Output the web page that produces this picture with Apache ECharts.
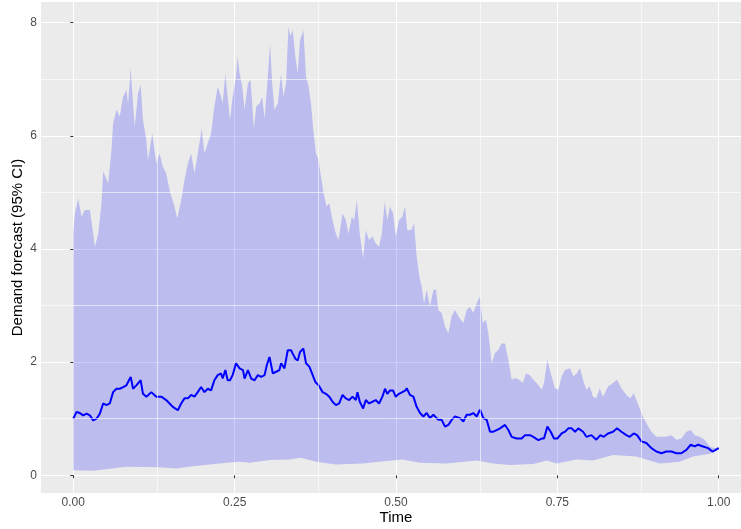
<!DOCTYPE html>
<html>
<head>
<meta charset="utf-8">
<title>Demand forecast</title>
<script src="https://cdn.jsdelivr.net/npm/echarts@6/dist/echarts.min.js"></script>
<style>
	html,body{margin:0;padding:0;background:#ffffff;}
	#main{width:741px;height:529px;}
</style>
</head>
<body>
<div id="main"></div>
<script>
// upper edge of the 95% band
var upperTime = [0,0.0026,0.0077,0.0129,0.018,0.0257,0.0309,0.0334,0.0386,0.0437,0.0463,0.054,0.0592,0.0617,0.0669,0.072,0.0772,0.0823,0.0849,0.089,0.0926,0.0952,0.1003,0.1044,0.108,0.1132,0.1157,0.1224,0.1286,0.1337,0.1389,0.144,0.1492,0.1569,0.161,0.1672,0.1723,0.1775,0.1826,0.1878,0.1929,0.1991,0.2032,0.2083,0.2135,0.2186,0.2238,0.2289,0.2315,0.2356,0.2392,0.2428,0.2469,0.2521,0.2546,
	0.2577,0.2618,0.2654,0.2706,0.2747,0.2798,0.2834,0.2886,0.2927,0.2963,0.2999,0.305,0.3081,0.3117,0.3169,0.322,0.3256,0.3297,0.3333,0.3364,0.34,0.3441,0.3477,0.3513,0.3565,0.3606,0.3647,0.3683,0.3719,0.376,0.3801,0.3837,0.3879,0.3925,0.3966,0.4017,0.4069,0.411,0.4172,0.4223,0.4264,0.4316,0.4352,0.4393,0.4439,0.4491,0.4532,0.4583,0.4635,0.4686,0.4738,0.4779,0.4825,0.4866,0.4907,0.4954,0.4995,0.5046,0.5098,0.5139,0.5175,
	0.5243,0.5279,0.532,0.5362,0.5398,0.5434,0.5475,0.5527,0.5579,0.562,0.5656,0.5708,0.5759,0.5811,0.5863,0.5914,0.5966,0.6043,0.6095,0.6147,0.6198,0.625,0.6302,0.6343,0.6395,0.6431,0.6482,0.6534,0.6586,0.6637,0.6689,0.6741,0.6792,0.6844,0.6911,0.6963,0.7014,0.7076,0.7128,0.718,0.7257,0.7293,0.7345,0.7397,0.7464,0.7516,0.7567,0.7619,0.7696,0.7748,0.78,0.7851,
	0.7898,0.795,0.8001,0.8053,0.8104,0.8156,0.8208,0.8285,0.8363,0.8425,0.8492,0.8569,0.8631,0.8683,0.8735,0.8802,0.8879,0.8957,0.9034,0.9112,0.9189,0.9267,0.9344,0.9421,0.9499,0.9566,0.9628,0.9706,0.9783,0.9861,0.9938,1];
var upperValue = [4.30,4.63,4.89,4.57,4.69,4.69,4.27,4.04,4.27,4.80,5.37,5.16,5.75,6.22,6.46,6.34,6.69,6.81,6.57,7.19,6.57,6.16,6.75,6.90,6.28,5.93,5.57,6.04,5.51,5.69,5.45,5.34,5.04,4.75,4.54,4.86,5.22,5.51,5.69,5.34,5.69,6.13,5.69,5.87,6.04,6.52,6.87,6.69,6.57,7.10,6.69,6.28,6.69,7.05,7.40,
	7.10,6.87,6.46,6.93,6.99,6.13,6.52,6.57,6.69,6.31,6.81,7.64,6.93,6.46,6.57,7.10,6.69,6.93,7.93,7.76,7.87,7.40,7.10,7.69,7.87,7.05,6.87,6.57,6.10,5.69,5.57,5.28,4.98,4.75,4.81,4.51,4.27,4.16,4.63,4.51,4.27,4.57,4.51,4.86,4.27,3.83,4.33,4.16,4.22,4.10,4.04,4.27,4.83,4.51,4.75,4.63,4.22,4.51,4.57,4.75,4.33,
	4.34,4.46,3.87,3.51,3.34,3.04,3.28,2.98,3.28,3.28,2.92,2.87,2.63,2.51,2.81,2.92,2.81,2.69,2.92,2.98,2.87,3.04,3.16,2.69,2.75,2.51,1.98,2.16,2.22,2.33,2.33,2.04,1.69,1.72,1.69,1.63,1.80,1.77,1.69,1.63,1.51,1.63,2.04,1.80,1.54,1.51,1.75,1.86,1.89,1.75,1.80,1.89,
	1.69,1.51,1.57,1.39,1.36,1.54,1.39,1.57,1.63,1.69,1.54,1.42,1.36,1.45,1.30,1.10,0.92,0.77,0.68,0.68,0.68,0.71,0.63,0.65,0.77,0.80,0.71,0.68,0.63,0.51,0.48,0.50];

// lower edge of the 95% band
var lowerTime = [0,0.0309,0.0823,0.1337,0.1595,0.1852,0.2263,0.2572,0.2731,0.304,0.3349,0.3529,0.376,0.4069,0.448,0.4738,0.5098,0.5372,0.5785,0.625,0.6508,0.6767,0.7128,0.7335,0.749,0.7794,0.8053,0.8363,0.8725,0.9086,0.9396,0.9602,0.9861,1];
var lowerValue = [0.09,0.08,0.15,0.14,0.12,0.16,0.21,0.24,0.22,0.27,0.28,0.31,0.24,0.19,0.21,0.24,0.28,0.22,0.21,0.26,0.21,0.18,0.20,0.26,0.21,0.28,0.26,0.36,0.33,0.21,0.24,0.33,0.38,0.46];

// forecast mean
var meanTime = [0,0.0051,0.0103,0.0154,0.0206,0.0257,0.0309,0.036,0.0412,0.0463,0.0514,0.0566,0.0617,0.0669,0.072,0.0772,0.0823,0.0849,0.089,0.0926,0.0977,0.1044,0.108,0.1132,0.1209,0.1286,0.1363,0.144,0.1492,0.1543,0.162,0.1672,0.1723,0.1775,0.1826,0.1878,0.1929,0.198,0.2032,0.2083,0.2135,0.2186,0.2238,0.2289,0.2315,0.2356,0.2392,0.2428,0.2469,0.2521,
	0.2577,0.2629,0.2654,0.2706,0.2757,0.2809,0.286,0.2912,0.2963,0.2999,0.304,0.3092,0.3143,0.3194,0.322,0.3272,0.3323,0.3374,0.34,0.3441,0.3477,0.3513,0.3565,0.3606,0.3657,0.3699,0.375,0.3801,0.3863,0.3915,0.3966,0.4017,0.4069,0.412,0.4172,0.4223,0.4275,0.4326,0.4378,0.4403,0.4439,0.4491,0.4532,0.4583,0.4635,0.4686,0.4738,0.4789,0.483,0.4866,0.4907,0.4954,0.4995,0.5046,0.5098,0.5149,
	0.5165,0.5217,0.5269,0.532,0.5372,0.5424,0.5475,0.5527,0.5579,0.5656,0.5708,0.5759,0.5811,0.5863,0.5914,0.5992,0.6043,0.6095,0.6147,0.6198,0.625,0.6302,0.6353,0.6405,0.6457,0.6508,0.656,0.6612,0.6689,0.6741,0.6792,0.687,0.6947,0.6999,0.7076,0.7128,0.7206,0.7257,0.7293,0.7345,0.7397,0.7448,0.75,0.7567,0.7619,0.767,0.7722,0.7774,0.7825,
	0.7898,0.795,0.8027,0.8104,0.8166,0.8218,0.8285,0.8363,0.8425,0.8492,0.8569,0.8621,0.8683,0.8735,0.8802,0.8879,0.8957,0.9034,0.9112,0.9189,0.9267,0.9344,0.9421,0.9499,0.9566,0.9628,0.9679,0.9757,0.9835,0.9902,0.9953,1];
var meanValue = [1.00,1.12,1.10,1.06,1.09,1.06,0.97,1.00,1.09,1.27,1.24,1.27,1.47,1.53,1.53,1.56,1.59,1.65,1.74,1.53,1.59,1.68,1.44,1.39,1.47,1.39,1.39,1.33,1.27,1.21,1.15,1.27,1.36,1.36,1.42,1.39,1.47,1.56,1.47,1.53,1.50,1.68,1.77,1.80,1.71,1.86,1.68,1.68,1.77,1.98,
	1.89,1.86,1.71,1.86,1.71,1.68,1.77,1.74,1.77,1.95,2.09,1.80,1.83,1.86,1.98,1.89,2.21,2.21,2.15,2.06,2.03,2.18,2.24,1.98,1.92,1.80,1.65,1.59,1.47,1.44,1.39,1.30,1.24,1.27,1.42,1.36,1.33,1.39,1.33,1.47,1.30,1.18,1.33,1.27,1.30,1.33,1.27,1.39,1.53,1.44,1.50,1.50,1.39,1.44,1.47,1.50,
	1.54,1.42,1.39,1.21,1.10,1.04,1.10,1.01,1.07,0.98,0.98,0.86,0.89,0.98,1.04,1.01,0.95,1.07,1.07,1.10,1.04,1.16,1.01,0.98,0.77,0.77,0.80,0.83,0.89,0.80,0.68,0.65,0.65,0.71,0.71,0.68,0.62,0.65,0.65,0.86,0.77,0.65,0.65,0.74,0.77,0.83,0.83,0.77,0.83,
	0.77,0.68,0.71,0.63,0.71,0.68,0.74,0.77,0.83,0.77,0.71,0.68,0.74,0.71,0.60,0.57,0.48,0.42,0.39,0.42,0.42,0.39,0.39,0.45,0.54,0.51,0.54,0.51,0.48,0.42,0.45,0.48];

var xTicks = [0, 0.25, 0.5, 0.75, 1];
var yTicks = [0, 2, 4, 6, 8];
var xMinor = [0.125, 0.375, 0.625, 0.875];
var yMinor = [1, 3, 5, 7];

function pairs(xs, ys){
	var out = [];
	for(var i = 0; i < xs.length; i++){
		out.push([xs[i], ys[i]]);
	}
	return out;
}

var minorLines = [];
for(var i = 0; i < xMinor.length; i++){ minorLines.push({xAxis: xMinor[i]}); }
for(var j = 0; j < yMinor.length; j++){ minorLines.push({yAxis: yMinor[j]}); }

var font = "'Liberation Sans', Arial, sans-serif";
var myChart = echarts.init(document.getElementById('main'));
var option = {
	animation: false,
	backgroundColor: '#ffffff',
	grid: {
		left: 41, top: 2, width: 710, height: 491,
		outerBoundsMode: 'none',
		containLabel: false,
		show: true, backgroundColor: '#EBEBEB', borderWidth: 0
	},
	xAxis: {
		type: 'value',
		min: -0.05,
		max: 1.05,
		name: 'Time',
		nameLocation: 'middle',
		nameGap: 17,
		nameMoveOverlap: false,
		nameTextStyle: {color: '#000000', fontSize: 15, fontFamily: font},
		axisLine: {show: false},
		axisTick: {show: true, length: 3, customValues: xTicks, lineStyle: {color: '#333333'}},
		axisLabel: {
			customValues: xTicks, margin: 4, color: '#4D4D4D', fontSize: 12, fontFamily: font,
			formatter: function(v){ return v.toFixed(2); }
		},
		splitLine: {show: true, lineStyle: {color: '#FFFFFF', width: 1}}
	},
	yAxis: {
		type: 'value',
		min: -0.313,
		max: 8.366,
		name: 'Demand forecast (95% CI)',
		nameLocation: 'middle',
		nameGap: 16,
		nameMoveOverlap: false,
		nameTextStyle: {color: '#000000', fontSize: 15, fontFamily: font},
		axisLine: {show: false},
		axisTick: {show: true, length: 3, customValues: yTicks, lineStyle: {color: '#333333'}},
		axisLabel: {customValues: yTicks, margin: 4, color: '#4D4D4D', fontSize: 12, fontFamily: font},
		splitLine: {show: true, lineStyle: {color: '#FFFFFF', width: 1}}
	},
	series: [
		{
			name: 'minor grid',
			type: 'line',
			data: [],
			silent: true,
			z: 1,
			markLine: {
				silent: true,
				symbol: 'none',
				label: {show: false},
				lineStyle: {color: '#FFFFFF', width: 0.6, type: 'solid'},
				data: minorLines
			}
		},
		{
			name: 'band',
			type: 'custom',
			silent: true,
			z: 2,
			data: [[0, 0]],
			renderItem: function(params, api){
				var pts = [];
				for(var i = 0; i < upperTime.length; i++){
					pts.push(api.coord([upperTime[i], upperValue[i]]));
				}
				for(var k = lowerTime.length - 1; k >= 0; k--){
					pts.push(api.coord([lowerTime[k], lowerValue[k]]));
				}
				return {
					type: 'polygon',
					shape: {points: pts},
					style: {fill: 'rgba(0,0,255,0.2)'}
				};
			}
		},
		{
			name: 'mean',
			type: 'line',
			z: 3,
			showSymbol: false,
			data: pairs(meanTime, meanValue),
			lineStyle: {color: '#0000FF', width: 2}
		}
	]
};
myChart.setOption(option);
</script>
</body>
</html>
